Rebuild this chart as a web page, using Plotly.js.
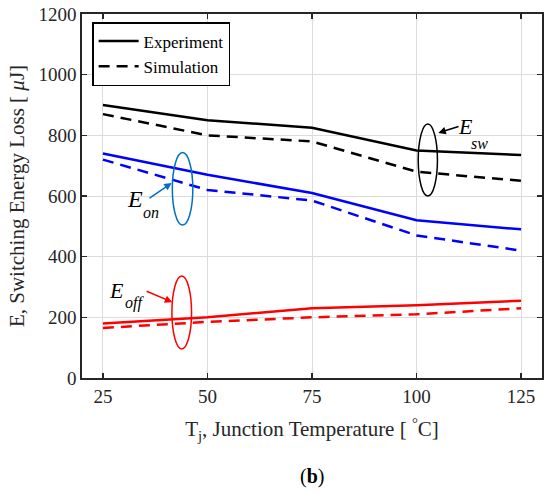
<!DOCTYPE html>
<html>
<head>
<meta charset="utf-8">
<script src="https://cdn.plot.ly/plotly-3.0.1.min.js"></script>
<style>html,body{margin:0;padding:0;background:#fff;}#chart{width:550px;height:493px;}</style>
</head>
<body>
<div id="chart"></div>
<script>
var temps = [25, 50, 75, 100, 125];
var eswExp = [900, 850, 825, 750, 735];
var eswSim = [870, 800, 780, 680, 650];
var eonExp = [740, 670, 610, 520, 490];
var eonSim = [720, 620, 585, 470, 420];
var eoffExp = [180, 200, 230, 240, 255];
var eoffSim = [165, 185, 200, 210, 230];
var xTicks = [25, 50, 75, 100, 125];
var yTicks = [0, 200, 400, 600, 800, 1000, 1200];

var FONT = "Liberation Serif";
var BLUE_E = "#0070C0";
var DASH = "11px,7px";

function tr(y, color, dash, name, show) {
  return {x: temps, y: y, type: "scatter", mode: "lines", name: name, showlegend: show,
          line: {color: color, width: 2.5, dash: dash}};
}

var data = [
  tr(eswExp, "#000000", "solid", "Experiment", true),
  tr(eswSim, "#000000", DASH, "Simulation", true),
  tr(eonExp, "#0000FF", "solid", "Eon exp", false),
  tr(eonSim, "#0000FF", DASH, "Eon sim", false),
  tr(eoffExp, "#FF0000", "solid", "Eoff exp", false),
  tr(eoffSim, "#FF0000", DASH, "Eoff sim", false)
];

function arrow(x, y, ax, ay, color) {
  return {x: x, y: y, ax: ax, ay: ay, xref: "x", yref: "y", axref: "x", ayref: "y",
          text: "", showarrow: true, arrowhead: 2, arrowsize: 1, arrowwidth: 1.5, arrowcolor: color};
}
function lab(x, y, txt, size) {
  return {x: x, y: y, xref: "x", yref: "y", text: txt, showarrow: false,
          xanchor: "left", yanchor: "middle",
          font: {family: FONT, size: size, color: "#000"}};
}

var layout = {
  width: 550, height: 493,
  margin: {l: 82, r: 8, t: 14, b: 115},
  paper_bgcolor: "#fff", plot_bgcolor: "#fff",
  font: {family: FONT, size: 19, color: "#262626"},
  xaxis: {
    range: [20, 130], tickvals: xTicks, ticks: "inside", ticklen: 5, tickwidth: 1.2, tickcolor: "#262626",
    showline: true, linecolor: "#262626", linewidth: 1.8, mirror: "ticks",
    showgrid: true, gridcolor: "#dcdcdc", gridwidth: 1, zeroline: false,
    tickfont: {family: FONT, size: 19, color: "#262626"},
    title: {text: "T<sub>j</sub>, Junction Temperature [ <sup>°</sup>C]", font: {family: FONT, size: 21, color: "#262626"}, standoff: 16}
  },
  yaxis: {
    range: [0, 1200], tickvals: yTicks, ticks: "inside", ticklen: 5, tickwidth: 1.2, tickcolor: "#262626",
    showline: true, linecolor: "#262626", linewidth: 1.8, mirror: "ticks",
    showgrid: true, gridcolor: "#dcdcdc", gridwidth: 1, zeroline: false,
    tickfont: {family: FONT, size: 19, color: "#262626"},
    title: {text: "E, Switching Energy Loss [ <i>μ</i>J]", font: {family: FONT, size: 21, color: "#262626"}, standoff: 8}
  },
  legend: {
    x: 0.022, y: 0.978, xanchor: "left", yanchor: "top",
    bgcolor: "#fff", bordercolor: "#000", borderwidth: 1.5,
    font: {family: FONT, size: 17, color: "#000"},
    tracegroupgap: 0, itemwidth: 40
  },
  shapes: [
    {type: "circle", xref: "x", yref: "y", x0: 100.4, x1: 105.0, y0: 600, y1: 837, line: {color: "#000", width: 1.5}},
    {type: "circle", xref: "x", yref: "y", x0: 41.6, x1: 46.5, y0: 504, y1: 743, line: {color: BLUE_E, width: 1.5}},
    {type: "circle", xref: "x", yref: "y", x0: 41.5, x1: 46.2, y0: 96, y1: 336, line: {color: "#FF0000", width: 1.5}}
  ],
  annotations: [
    arrow(105.2, 808, 110.4, 831, "#000"),
    arrow(41.45, 643, 35.8, 590, BLUE_E),
    arrow(41.6, 250, 35.1, 288, "#FF0000"),
    lab(109.4, 829, "<i>E</i>", 22),
    lab(112.6, 774, "<i>sw</i>", 16),
    lab(30.2, 590, "<i>E</i>", 24),
    lab(34.0, 545, "<i>on</i>", 16),
    lab(26.0, 290, "<i>E</i>", 22),
    lab(29.7, 248, "<i>off</i>", 16),
    {x: 0.5, y: -0.27, xref: "paper", yref: "paper", text: "(<b>b</b>)", showarrow: false,
     xanchor: "center", yanchor: "middle", font: {family: FONT, size: 20, color: "#000"}}
  ]
};

Plotly.newPlot("chart", data, layout, {displayModeBar: false, staticPlot: true});
</script>
</body>
</html>
